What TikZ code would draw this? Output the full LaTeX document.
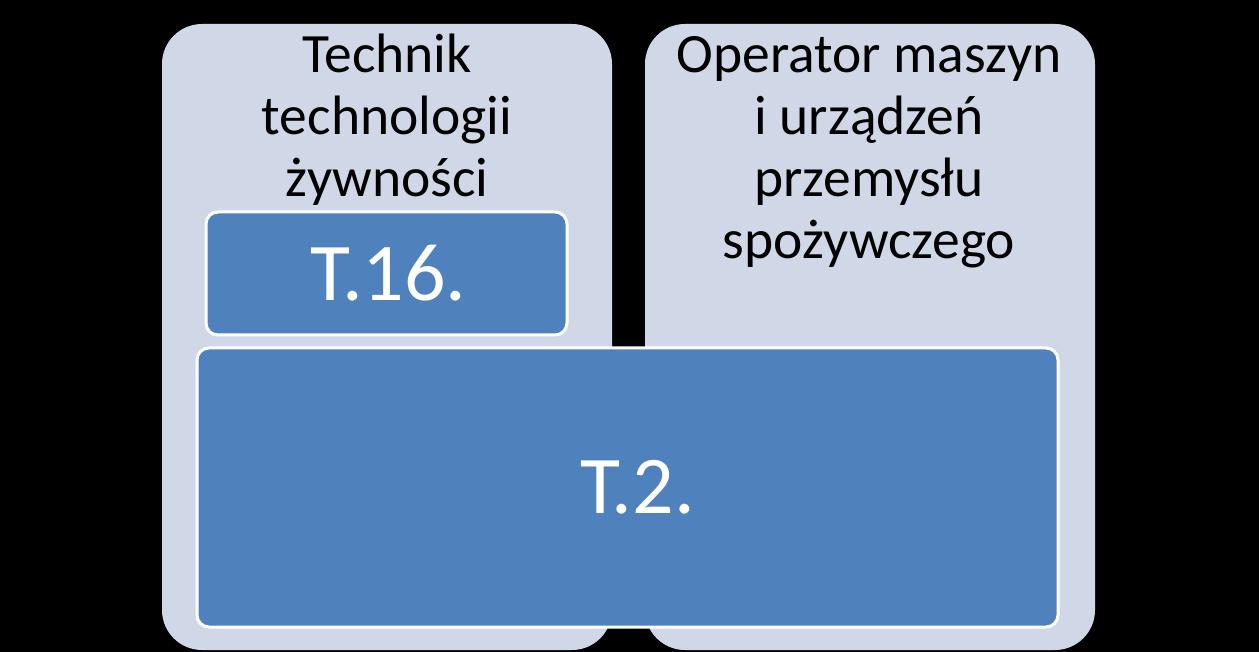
\documentclass[tikz,border=0pt]{standalone}
\usepackage{fontspec}
\setmainfont{Carlito}
\usetikzlibrary{positioning}

\definecolor{colfill}{HTML}{D0D8E8}
\definecolor{boxfill}{HTML}{4F81BD}

\begin{document}
\begin{tikzpicture}[x=1pt,y=-1pt,
    column/.style={fill=colfill, rounded corners=40pt, minimum width=450pt, minimum height=626pt, inner sep=0pt},
    exam/.style={fill=boxfill, draw=white, line width=3pt, rounded corners=12pt, inner sep=0pt, text=white, font=\fontsize{82}{90}\selectfont},
    title/.style={anchor=north, align=center, inner sep=0pt, font=\fontsize{55.5}{62}\selectfont}
]

% Background
\fill[black] (0,0) rectangle (1259,652);
\useasboundingbox (0,0) rectangle (1259,652);

% Columns
\node[column] (colA) at (387,337){};
\node[column] (colB) at (870,337){};
\node[title] (titleA) at (387,34){Technik\\technologii\\żywności};
\node[title] (titleB) at (869,36){Operator maszyn\\i urządzeń\\przemysłu\\spożywczego};

% Exams
\node[exam, minimum width=361pt, minimum height=123pt] (t16) at (386.5,273.5){\hspace*{4pt}T.16.};
\node[exam, minimum width=861pt, minimum height=279pt] (t2) at (627.5,487.5){\hspace*{20pt}T.2.};
\end{tikzpicture}
\end{document}
